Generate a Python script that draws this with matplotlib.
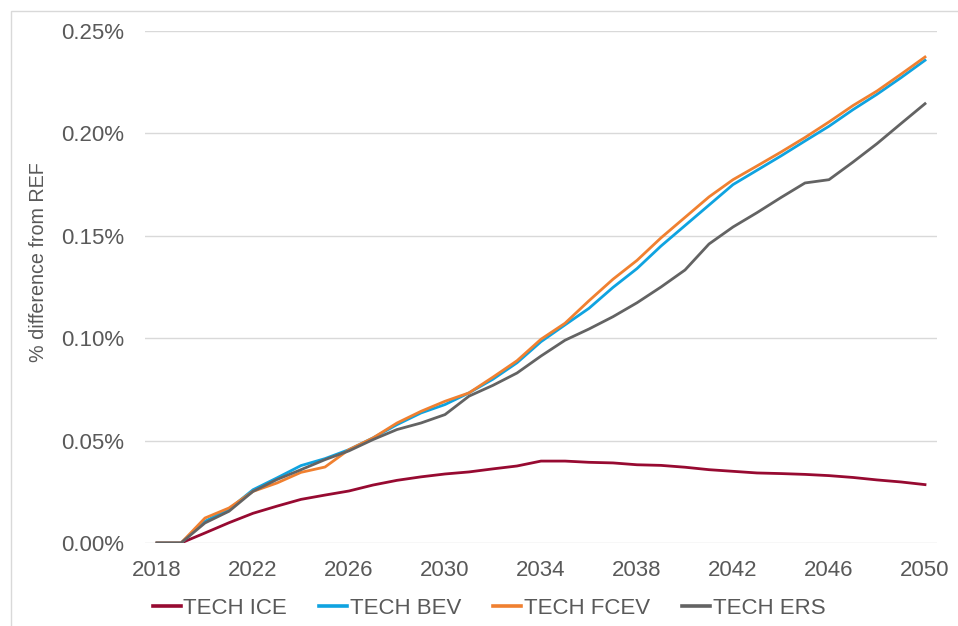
import matplotlib
matplotlib.use("Agg")
import matplotlib.pyplot as plt
from matplotlib.ticker import FuncFormatter, MultipleLocator
from matplotlib.patches import Rectangle

years = list(range(2018, 2051))
xtick_years = list(range(2018, 2051, 4))
series_names = ["TECH ICE", "TECH BEV", "TECH FCEV", "TECH ERS"]

tech_ice = [0, 0, 0.0049, 0.0099, 0.0145, 0.0180, 0.0213, 0.0234, 0.0254, 0.0283,
            0.0306, 0.0323, 0.0337, 0.0347, 0.0362, 0.0376, 0.0400, 0.0400, 0.0394,
            0.0391, 0.0382, 0.0379, 0.0370, 0.0358, 0.0350, 0.0342, 0.0339, 0.0335,
            0.0329, 0.0320, 0.0308, 0.0298, 0.0285]
tech_bev = [0, 0, 0.0106, 0.0165, 0.0260, 0.0318, 0.0378, 0.0412, 0.0456, 0.0513,
            0.0578, 0.0635, 0.0676, 0.0733, 0.0800, 0.0880, 0.0983, 0.1065, 0.1146,
            0.1248, 0.1340, 0.1450, 0.1550, 0.1650, 0.1750, 0.1820, 0.1890, 0.1963,
            0.2035, 0.2116, 0.2191, 0.2272, 0.2357]
tech_fcev = [0, 0, 0.0122, 0.0171, 0.0252, 0.0293, 0.0345, 0.0371, 0.0456, 0.0513,
             0.0586, 0.0643, 0.0692, 0.0733, 0.0810, 0.0890, 0.0995, 0.1073, 0.1183,
             0.1288, 0.1380, 0.1490, 0.1590, 0.1690, 0.1774, 0.1841, 0.1909, 0.1980,
             0.2056, 0.2136, 0.2207, 0.2289, 0.2373]
tech_ers = [0, 0, 0.0098, 0.0155, 0.0252, 0.0310, 0.0358, 0.0407, 0.0450, 0.0505,
            0.0554, 0.0586, 0.0627, 0.0717, 0.0770, 0.0830, 0.0913, 0.0990, 0.1045,
            0.1105, 0.1173, 0.1250, 0.1333, 0.1460, 0.1543, 0.1613, 0.1687, 0.1758,
            0.1774, 0.1860, 0.1950, 0.2048, 0.2145]

colors = ["#970A31", "#0FA3E0", "#F08030", "#636363"]
text_color = "#595959"

plt.rcParams['font.family'] = ['Liberation Sans', 'DejaVu Sans']

fig = plt.figure(figsize=(9.58, 6.26), dpi=100)
ax = fig.add_axes([145 / 958, 1 - 543 / 626, (937 - 145) / 958, (543 - 31) / 626])

for name, vals, c in zip(series_names, [tech_ice, tech_bev, tech_fcev, tech_ers], colors):
    ax.plot(years, vals, color=c, lw=2.0, label=name, solid_joinstyle='round')

ax.set_xlim(2017.5, 2050.5)
ax.set_ylim(0, 0.25)
ax.set_xticks(xtick_years)
ax.set_xticklabels([str(y) for y in xtick_years])
ax.yaxis.set_major_locator(MultipleLocator(0.05))
ax.yaxis.set_major_formatter(FuncFormatter(lambda v, p: f"{v:.2f}%"))
ax.grid(axis='y', color='#D9D9D9', lw=1.0)
ax.set_axisbelow(True)
for s in ax.spines.values():
    s.set_visible(False)
ax.tick_params(axis='both', length=0, labelsize=16, labelcolor=text_color)
ax.tick_params(axis='y', pad=15)
ax.tick_params(axis='x', pad=12)

fig.text(39 / 958, 1 - 262 / 626, "% difference from REF", rotation=90,
         ha='center', va='center', fontsize=14.2, color=text_color)

leg = fig.legend(loc='center', bbox_to_anchor=(489 / 958, 1 - 608 / 626), ncol=4,
                 frameon=False, fontsize=16, handlelength=1.25, handletextpad=0.12,
                 columnspacing=1.45, borderaxespad=0, borderpad=0)
for t in leg.get_texts():
    t.set_color(text_color)
for l in leg.get_lines():
    l.set_linewidth(2.6)

fig.patches.append(Rectangle((11 / 958, -0.1), 1.2, 1 - 11 / 626 + 0.1,
                             transform=fig.transFigure, fill=False,
                             edgecolor='#D9D9D9', lw=1.0))

fig.savefig("out.png", dpi=100)
